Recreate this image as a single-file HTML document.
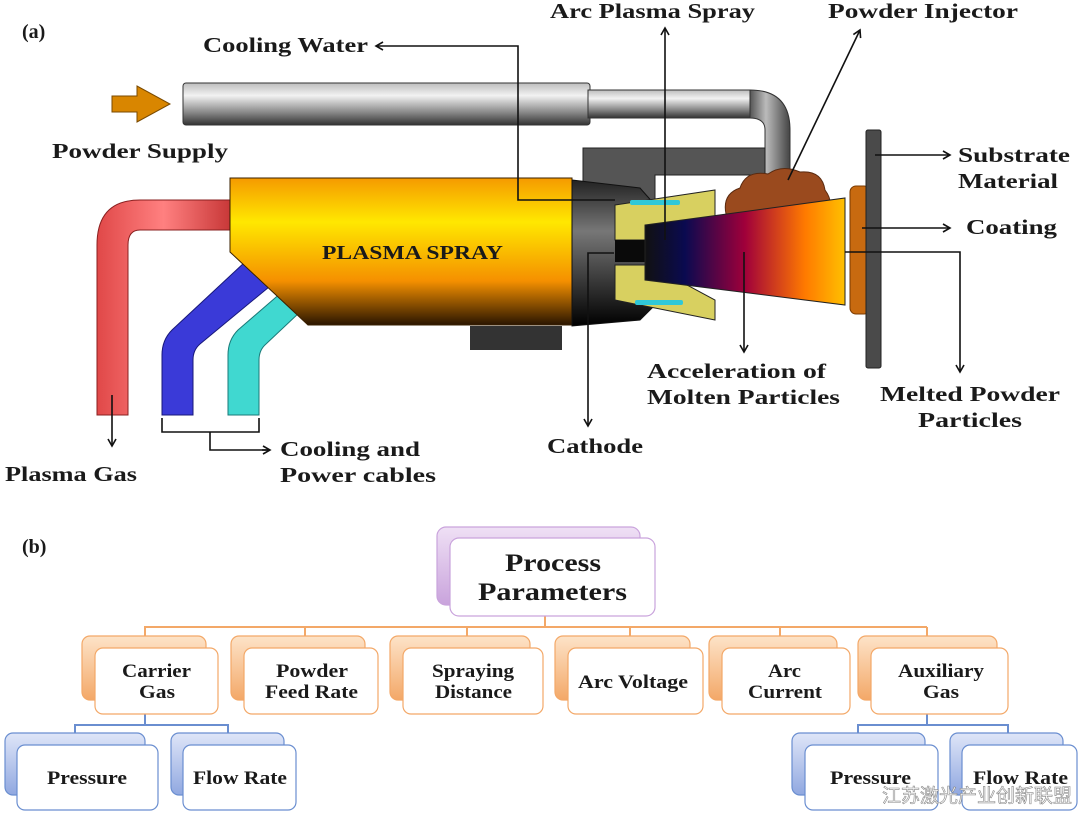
<!DOCTYPE html>
<html><head><meta charset="utf-8"><style>
html,body{margin:0;padding:0;background:#fff;}
svg{display:block;}
text{font-family:"Liberation Serif","Noto Serif CJK SC",serif;font-weight:bold;fill:#1a1a1a;}
</style></head><body>
<svg width="1080" height="814" viewBox="0 0 1080 814" xmlns="http://www.w3.org/2000/svg">
<defs>
<linearGradient id="grey" x1="0" y1="0" x2="0" y2="1"><stop offset="0" stop-color="#bdbdbd"/><stop offset="0.3" stop-color="#f2f2f2"/><stop offset="0.7" stop-color="#888"/><stop offset="1" stop-color="#333"/></linearGradient>
<linearGradient id="greyv" x1="0" y1="0" x2="1" y2="0"><stop offset="0" stop-color="#555"/><stop offset="0.4" stop-color="#bbb"/><stop offset="1" stop-color="#444"/></linearGradient>
<linearGradient id="body" x1="0" y1="0" x2="0" y2="1"><stop offset="0" stop-color="#f59a00"/><stop offset="0.3" stop-color="#ffe800"/><stop offset="0.7" stop-color="#f59000"/><stop offset="1" stop-color="#2a1500"/></linearGradient>
<linearGradient id="red" x1="0" y1="0" x2="1" y2="0"><stop offset="0" stop-color="#e04848"/><stop offset="0.5" stop-color="#ff8080"/><stop offset="1" stop-color="#c83838"/></linearGradient>
<linearGradient id="plume" x1="0" y1="0" x2="1" y2="0"><stop offset="0" stop-color="#111"/><stop offset="0.2" stop-color="#0a0a50"/><stop offset="0.5" stop-color="#a0003a"/><stop offset="0.8" stop-color="#ff7a00"/><stop offset="1" stop-color="#ffc000"/></linearGradient>
<linearGradient id="noz" x1="0" y1="0" x2="0" y2="1"><stop offset="0" stop-color="#222"/><stop offset="0.35" stop-color="#777"/><stop offset="1" stop-color="#000"/></linearGradient>
<linearGradient id="og" x1="0" y1="0" x2="0" y2="1"><stop offset="0" stop-color="#fde3c8"/><stop offset="1" stop-color="#f3a868"/></linearGradient>
<linearGradient id="bg" x1="0" y1="0" x2="0" y2="1"><stop offset="0" stop-color="#dfe6f8"/><stop offset="1" stop-color="#90a8e0"/></linearGradient>
<linearGradient id="pg" x1="0" y1="0" x2="0" y2="1"><stop offset="0" stop-color="#efe0f5"/><stop offset="1" stop-color="#c9a3dc"/></linearGradient>
<marker id="ar" markerWidth="10" markerHeight="10" refX="8" refY="5" orient="auto" markerUnits="userSpaceOnUse"><path d="M1,1 L8,5 L1,9" fill="none" stroke="#111" stroke-width="1.6"/></marker>
</defs>

<text x="22" y="38" font-size="20">(a)</text>
<text x="22" y="553" font-size="20">(b)</text>

<path d="M112,96 L137,96 L137,86 L170,104 L137,122 L137,112 L112,112 Z" fill="#d98600" stroke="#7a4a00" stroke-width="1"/>

<rect x="183" y="83" width="407" height="42" rx="3" fill="url(#grey)" stroke="#333"/>
<rect x="588" y="90" width="162" height="28" fill="url(#grey)" stroke="#333"/>
<path d="M750,90 Q790,90 790,130 L790,180 L765,180 L765,130 Q765,118 750,118 Z" fill="url(#greyv)" stroke="#333"/>
<path d="M583,148 L765,148 L765,175 L655,175 L655,200 L583,200 Z" fill="#555" stroke="#222"/>
<path d="M230,200 L140,200 Q97,200 97,245 L97,415 L128,415 L128,245 Q128,230 140,230 L230,230 Z" fill="url(#red)" stroke="#8a2020"/>
<path d="M245,262 L172,330 Q162,340 162,355 L162,415 L193,415 L193,360 Q193,350 200,344 L275,282 Z" fill="#3a3ad8" stroke="#18187a"/>
<path d="M282,292 L238,330 Q228,340 228,355 L228,415 L259,415 L259,360 Q259,350 266,344 L300,312 Z" fill="#40d8d0" stroke="#1a7a78"/>
<path d="M230,178 L572,178 L572,325 L308,325 L230,252 Z" fill="url(#body)" stroke="#3a2000"/>
<rect x="470" y="326" width="92" height="24" fill="#333"/>
<path d="M572,180 L640,188 L655,205 L655,305 L640,320 L572,326 Z" fill="url(#noz)" stroke="#111"/>
<path d="M615,205 L715,190 L715,225 L650,240 L615,240 Z" fill="#d8d060" stroke="#222"/>
<path d="M615,265 L650,265 L715,300 L715,320 L615,300 Z" fill="#d8d060" stroke="#222"/>
<path d="M615,240 L660,240 L660,262 L615,262 Z" fill="#0a0a0a"/>
<rect x="630" y="200" width="50" height="5" rx="2" fill="#30c8d8"/>
<rect x="635" y="300" width="48" height="5" rx="2" fill="#30c8d8"/>
<path d="M726,214 Q722,194 740,188 Q746,170 768,174 Q782,164 800,172 Q822,170 825,190 Q834,202 828,214 Z" fill="#9a4a1e" stroke="#5a2a10"/>
<path d="M645,225 L845,198 L845,305 L645,280 Z" fill="url(#plume)" stroke="#222"/>
<rect x="850" y="186" width="20" height="128" rx="6" fill="#c86a10" stroke="#7a3a00"/>
<rect x="866" y="130" width="15" height="238" rx="2" fill="#4a4a4a" stroke="#222"/>

<g stroke="#111" stroke-width="1.6" fill="none">
<path d="M665,240 L665,28" marker-end="url(#ar)"/>
<path d="M615,200 L518,200 L518,46 L376,46" marker-end="url(#ar)"/>
<path d="M788,180 L860,30" marker-end="url(#ar)"/>
<path d="M875,155 L950,155" marker-end="url(#ar)"/>
<path d="M862,228 L950,228" marker-end="url(#ar)"/>
<path d="M845,252 L960,252 L960,372" marker-end="url(#ar)"/>
<path d="M744,252 L744,352" marker-end="url(#ar)"/>
<path d="M614,253 L588,253 L588,426" marker-end="url(#ar)"/>
<path d="M112,395 L112,446" marker-end="url(#ar)"/>
<path d="M162,418 L162,432 L259,432 L259,418 M210,432 L210,450 L270,450" />
<path d="M262,450 L270,450" marker-end="url(#ar)"/>
</g>

<g font-size="21" lengthAdjust="spacingAndGlyphs">
<text x="52" y="158" textLength="176" lengthAdjust="spacingAndGlyphs">Powder Supply</text>
<text x="322" y="259" textLength="181" lengthAdjust="spacingAndGlyphs" font-size="20">PLASMA SPRAY</text>
<text x="203" y="52" textLength="165" lengthAdjust="spacingAndGlyphs">Cooling Water</text>
<text x="550" y="18" textLength="205" lengthAdjust="spacingAndGlyphs">Arc Plasma Spray</text>
<text x="828" y="18" textLength="190" lengthAdjust="spacingAndGlyphs">Powder Injector</text>
<text x="958" y="162" textLength="112" lengthAdjust="spacingAndGlyphs">Substrate</text>
<text x="958" y="188" textLength="100" lengthAdjust="spacingAndGlyphs">Material</text>
<text x="966" y="234" textLength="91" lengthAdjust="spacingAndGlyphs">Coating</text>
<text x="647" y="378" textLength="179" lengthAdjust="spacingAndGlyphs">Acceleration of</text>
<text x="647" y="404" textLength="193" lengthAdjust="spacingAndGlyphs">Molten Particles</text>
<text x="880" y="401" textLength="180" lengthAdjust="spacingAndGlyphs">Melted Powder</text>
<text x="918" y="427" textLength="104" lengthAdjust="spacingAndGlyphs">Particles</text>
<text x="547" y="453" textLength="96" lengthAdjust="spacingAndGlyphs">Cathode</text>
<text x="5" y="481" textLength="132" lengthAdjust="spacingAndGlyphs">Plasma Gas</text>
<text x="280" y="456" textLength="140" lengthAdjust="spacingAndGlyphs">Cooling and</text>
<text x="280" y="482" textLength="156" lengthAdjust="spacingAndGlyphs">Power cables</text>
</g>

<g stroke="#f3a868" stroke-width="2" fill="none">
<path d="M145,636 L145,627 L927,627 M305,627 L305,636 M467,627 L467,636 M630,627 L630,636 M780,627 L780,636 M927,627 L927,636 M545,616 L545,627"/>
</g>
<g stroke="#6a8ed0" stroke-width="2" fill="none">
<path d="M145,714 L145,725 M75,733 L75,725 L228,725 L228,733"/>
<path d="M927,714 L927,725 M858,733 L858,725 L1008,725 L1008,733"/>
</g>
<g stroke="#f3a868" stroke-width="1.2">
<rect x="82" y="636" width="124" height="64" rx="8" fill="url(#og)"/>
<rect x="95" y="648" width="123" height="66" rx="8" fill="#fff"/>
<rect x="231" y="636" width="134" height="64" rx="8" fill="url(#og)"/>
<rect x="244" y="648" width="134" height="66" rx="8" fill="#fff"/>
<rect x="390" y="636" width="140" height="64" rx="8" fill="url(#og)"/>
<rect x="403" y="648" width="140" height="66" rx="8" fill="#fff"/>
<rect x="555" y="636" width="135" height="64" rx="8" fill="url(#og)"/>
<rect x="568" y="648" width="135" height="66" rx="8" fill="#fff"/>
<rect x="709" y="636" width="128" height="64" rx="8" fill="url(#og)"/>
<rect x="722" y="648" width="128" height="66" rx="8" fill="#fff"/>
<rect x="858" y="636" width="139" height="64" rx="8" fill="url(#og)"/>
<rect x="871" y="648" width="137" height="66" rx="8" fill="#fff"/>
</g>
<g stroke="#6a8ed0" stroke-width="1.2">
<rect x="5" y="733" width="140" height="62" rx="8" fill="url(#bg)"/>
<rect x="17" y="745" width="141" height="65" rx="8" fill="#fff"/>
<rect x="171" y="733" width="113" height="62" rx="8" fill="url(#bg)"/>
<rect x="183" y="745" width="113" height="65" rx="8" fill="#fff"/>
<rect x="792" y="733" width="133" height="62" rx="8" fill="url(#bg)"/>
<rect x="805" y="745" width="133" height="65" rx="8" fill="#fff"/>
<rect x="950" y="733" width="113" height="62" rx="8" fill="url(#bg)"/>
<rect x="962" y="745" width="115" height="65" rx="8" fill="#fff"/>
</g>
<g stroke="#c9a3dc" stroke-width="1.2">
<rect x="437" y="527" width="203" height="78" rx="9" fill="url(#pg)"/>
<rect x="450" y="538" width="205" height="78" rx="9" fill="#fff"/>
</g>
<g font-size="19">
<text x="505" y="571" font-size="25" textLength="96" lengthAdjust="spacingAndGlyphs">Process</text>
<text x="478" y="600" font-size="25" textLength="149" lengthAdjust="spacingAndGlyphs">Parameters</text>
<text x="122" y="677" textLength="69" lengthAdjust="spacingAndGlyphs">Carrier</text>
<text x="139" y="698" textLength="36" lengthAdjust="spacingAndGlyphs">Gas</text>
<text x="276" y="677" textLength="72" lengthAdjust="spacingAndGlyphs">Powder</text>
<text x="265" y="698" textLength="93" lengthAdjust="spacingAndGlyphs">Feed Rate</text>
<text x="432" y="677" textLength="82" lengthAdjust="spacingAndGlyphs">Spraying</text>
<text x="435" y="698" textLength="77" lengthAdjust="spacingAndGlyphs">Distance</text>
<text x="578" y="688" textLength="110" lengthAdjust="spacingAndGlyphs">Arc Voltage</text>
<text x="768" y="677" textLength="33" lengthAdjust="spacingAndGlyphs">Arc</text>
<text x="748" y="698" textLength="74" lengthAdjust="spacingAndGlyphs">Current</text>
<text x="898" y="677" textLength="86" lengthAdjust="spacingAndGlyphs">Auxiliary</text>
<text x="923" y="698" textLength="36" lengthAdjust="spacingAndGlyphs">Gas</text>
<text x="47" y="784" textLength="80" lengthAdjust="spacingAndGlyphs">Pressure</text>
<text x="193" y="784" textLength="94" lengthAdjust="spacingAndGlyphs">Flow Rate</text>
<text x="830" y="784" textLength="81" lengthAdjust="spacingAndGlyphs">Pressure</text>
<text x="973" y="784" textLength="95" lengthAdjust="spacingAndGlyphs">Flow Rate</text>
</g>
<text x="882" y="802" font-size="19" style="font-family:'Noto Sans CJK SC',sans-serif;font-weight:normal;fill:#fff;stroke:#888;stroke-width:0.6">江苏激光产业创新联盟</text>
</svg>
</body></html>
